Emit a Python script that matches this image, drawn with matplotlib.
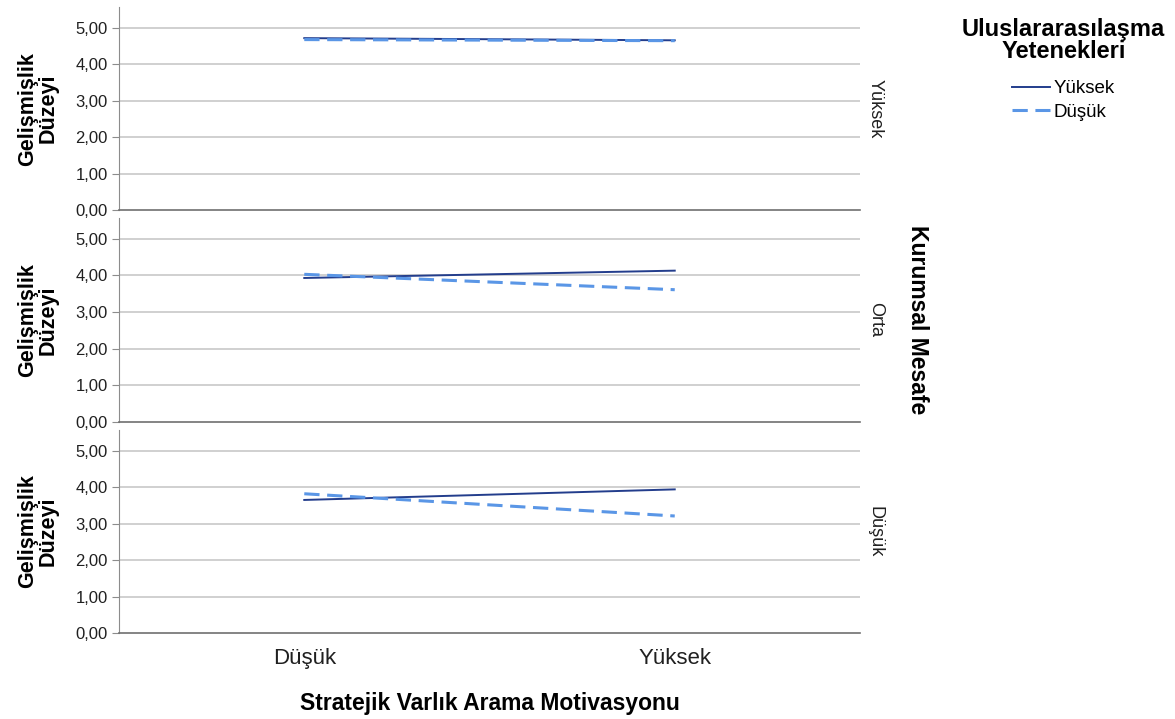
import numpy as np
import matplotlib.pyplot as plt

plt.rcParams['font.family'] = ['Liberation Sans', 'DejaVu Sans']

x_labels = ['Düşük', 'Yüksek']
rows = ['Yüksek', 'Orta', 'Düşük']  # Kurumsal Mesafe panels, top to bottom

# Uluslararasılaşma Yetenekleri = Yüksek (solid)
yuksek_vals = [[4.72, 4.66], [3.93, 4.13], [3.65, 3.94]]
# Uluslararasılaşma Yetenekleri = Düşük (dashed)
dusuk_vals = [[4.68, 4.65], [4.03, 3.61], [3.82, 3.21]]

yticks = [0, 1, 2, 3, 4, 5]
ytick_labels = ['0,00', '1,00', '2,00', '3,00', '4,00', '5,00']

solid_c = '#233d8c'
dash_c = '#5a96e6'

fig = plt.figure(figsize=(11.75, 7.19), dpi=100)
boxes = [(0.990, 0.708), (0.697, 0.413), (0.402, 0.1196)]
x = np.arange(len(x_labels))
axes = []
for i, (top, bot) in enumerate(boxes):
    ax = fig.add_axes([0.1013, bot, 0.6306, top - bot])
    ax.set_ylim(0, 5.57)
    ax.set_xlim(-0.5, 1.5)
    ax.set_yticks(yticks)
    ax.set_yticklabels(ytick_labels, fontsize=12)
    for yv in yticks[1:]:
        ax.axhline(yv, color='#c8c8c8', lw=1.2, zorder=0)
    ax.plot(x, yuksek_vals[i], color=solid_c, lw=1.4, label='Yüksek')
    ax.plot(x, dusuk_vals[i], color=dash_c, lw=2.2, ls=(0, (5, 2.5)), label='Düşük')
    for s in ['top', 'right']:
        ax.spines[s].set_visible(False)
    ax.spines['left'].set_color('#8c8c8c')
    ax.spines['bottom'].set_color('#707070')
    ax.spines['bottom'].set_linewidth(1.2)
    ax.tick_params(axis='y', length=5, color='#8c8c8c', labelcolor='#202020', pad=3)
    ax.set_ylabel('Gelişmişlik\nDüzeyi', fontsize=15.5, fontweight='bold', labelpad=12,
                  linespacing=1.0)
    ax.text(1.009, 0.5, rows[i], transform=ax.transAxes, rotation=-90,
            ha='left', va='center', fontsize=13, color='#202020')
    if i < 2:
        ax.set_xticks([])
    else:
        ax.set_xticks(x)
        ax.set_xticklabels(x_labels, fontsize=16, color='#202020')
        ax.tick_params(axis='x', length=0, pad=11)
        ax.set_xlabel('Stratejik Varlık Arama Motivasyonu', fontsize=16.5,
                      fontweight='bold', labelpad=16)
    axes.append(ax)

fig.text(0.781, 0.555, 'Kurumsal Mesafe', rotation=-90, ha='center', va='center',
         fontsize=16.5, fontweight='bold')

h, l = axes[0].get_legend_handles_labels()
leg = fig.legend(h, l, loc='upper center', bbox_to_anchor=(0.905, 0.998),
                 title='Uluslararasılaşma\nYetenekleri', frameon=False,
                 fontsize=13.5, handlelength=2.0, handletextpad=0.2,
                 labelspacing=0.35)
leg.get_title().set_fontweight('bold')
leg.get_title().set_fontsize(17)
leg.get_title().set_multialignment('center')
leg.get_title().set_linespacing(0.95)
leg._legend_box.sep = 12

fig.savefig('out.png', dpi=100)
